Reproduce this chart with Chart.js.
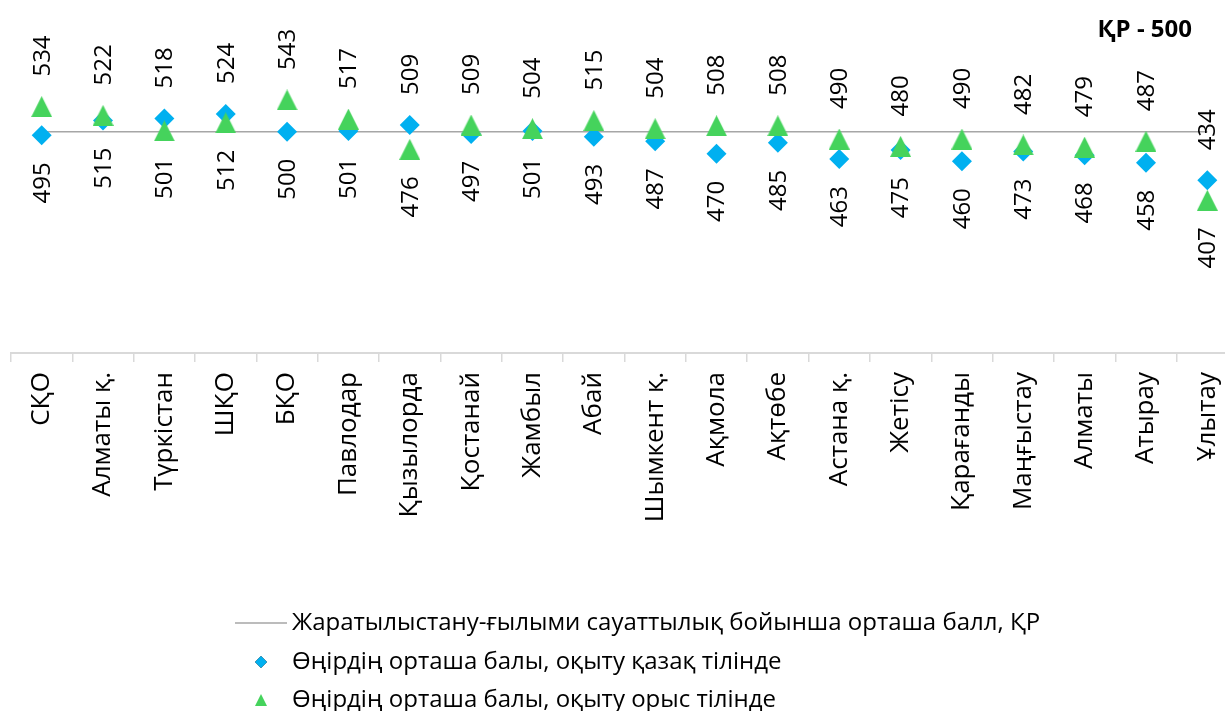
<!DOCTYPE html>
<html lang="kk">
<head>
<meta charset="utf-8">
<title>Жаратылыстану-ғылыми сауаттылық</title>
<script src="https://cdn.jsdelivr.net/npm/chart.js@4.4.0/dist/chart.umd.min.js"></script>
<style>
    html, body { margin: 0; padding: 0; background: #fff; overflow: hidden; }
    #wrap { width: 1250px; height: 711px; }
</style>
</head>
<body>
<div id="wrap"><canvas id="scoreChart" width="1250" height="711"></canvas></div>
<script>
// Regions (categories)
const regions = ['СҚО', 'Алматы қ.', 'Түркістан', 'ШҚО', 'БҚО', 'Павлодар', 'Қызылорда', 'Қостанай',
    'Жамбыл', 'Абай', 'Шымкент қ.', 'Ақмола', 'Ақтөбе', 'Астана қ.', 'Жетісу', 'Қарағанды',
    'Маңғыстау', 'Алматы', 'Атырау', 'Ұлытау'];

// Average score of the region, Kazakh language of instruction
const kazakhScores = [495, 515, 518, 524, 500, 501, 509, 497, 501, 493, 487, 470, 485, 463, 475, 460, 473, 468, 458, 434];

// Average score of the region, Russian language of instruction
const russianScores = [534, 522, 501, 512, 543, 517, 476, 509, 504, 515, 504, 508, 508, 490, 480, 490, 482, 479, 487, 407];

// National average (ҚР)
const nationalScores = [500, 500, 500, 500, 500, 500, 500, 500, 500, 500, 500, 500, 500, 500, 500, 500, 500, 500, 500, 500];

// Hidden value axis range
const yMin = 200;
const yMax = 650;

const seriesNames = [
    'Жаратылыстану-ғылыми сауаттылық бойынша орташа балл, ҚР',
    'Өңірдің орташа балы, оқыту қазақ тілінде',
    'Өңірдің орташа балы, оқыту орыс тілінде'
];

const colors = {
    blue: '#00B0F0',
    green: '#45D35C',
    line: '#A6A6A6',
    axis: '#D9D9D9',
    text: '#000000'
};

const FONT = '"Open Sans", "Noto Sans", sans-serif';

// Triangle marker centred on its bounding box (like the office markers)
function makeTriangle(w, h, color) {
    const c = document.createElement('canvas');
    c.width = w;
    c.height = h;
    const g = c.getContext('2d');
    g.fillStyle = color;
    g.beginPath();
    g.moveTo(w / 2, 0);
    g.lineTo(w, h);
    g.lineTo(0, h);
    g.closePath();
    g.fill();
    return c;
}

const triangleMarker = makeTriangle(21, 21, colors.green);

// Value labels: the higher of the two scores above, the lower one below
const valueLabels = {
    id: 'valueLabels',
    afterDatasetsDraw(chart) {
        const ctx = chart.ctx;
        const kz = chart.getDatasetMeta(1).data;
        const ru = chart.getDatasetMeta(2).data;
        ctx.save();
        ctx.font = '24px ' + FONT;
        ctx.fillStyle = colors.text;
        ctx.textBaseline = 'middle';
        regions.forEach((r, i) => {
            const a = { p: kz[i], v: kazakhScores[i] };
            const b = { p: ru[i], v: russianScores[i] };
            const hi = a.p.y <= b.p.y ? a : b;
            const lo = hi === a ? b : a;
            // upper label
            ctx.save();
            ctx.translate(hi.p.x + 1, hi.p.y - 30);
            ctx.rotate(-Math.PI / 2);
            ctx.textAlign = 'left';
            ctx.fillText(String(hi.v), 0, 0);
            ctx.restore();
            // lower label
            ctx.save();
            ctx.translate(lo.p.x + 1, lo.p.y + 27);
            ctx.rotate(-Math.PI / 2);
            ctx.textAlign = 'right';
            ctx.fillText(String(lo.v), 0, 0);
            ctx.restore();
        });
        ctx.restore();
    }
};

// Note in the top right corner + legend at the bottom
const extras = {
    id: 'extras',
    afterDraw(chart) {
        const ctx = chart.ctx;
        ctx.save();
        ctx.fillStyle = colors.text;
        ctx.font = 'bold 24px ' + FONT;
        ctx.textAlign = 'right';
        ctx.textBaseline = 'middle';
        ctx.fillText('ҚР - 500', 1192, 30);

        // legend rows
        const rows = [623, 662, 700];
        ctx.font = '24px ' + FONT;
        ctx.textAlign = 'left';

        ctx.strokeStyle = colors.line;
        ctx.lineWidth = 1.5;
        ctx.beginPath();
        ctx.moveTo(235, rows[0]);
        ctx.lineTo(287, rows[0]);
        ctx.stroke();

        Chart.helpers.drawPoint(ctx, { pointStyle: 'rectRot', radius: 6, borderWidth: 0 }, 261, rows[1]);
        ctx.fillStyle = colors.blue;
        ctx.fill();
        ctx.drawImage(makeTriangle(12, 12, colors.green), 255, rows[2] - 6);

        ctx.fillStyle = colors.text;
        seriesNames.forEach((name, i) => ctx.fillText(name, 292, rows[i]));
        ctx.restore();
    }
};

const chart = new Chart(document.getElementById('scoreChart'), {
    type: 'line',
    data: {
        labels: regions,
        datasets: [
            {
                label: seriesNames[0],
                data: nationalScores,
                borderColor: colors.line,
                borderWidth: 1.5,
                pointRadius: 0,
                order: 2
            },
            {
                label: seriesNames[1],
                data: kazakhScores,
                showLine: false,
                pointStyle: 'rectRot',
                pointRadius: 10,
                pointBorderWidth: 0,
                pointBackgroundColor: colors.blue,
                pointBorderColor: colors.blue,
                order: 1
            },
            {
                label: seriesNames[2],
                data: russianScores,
                showLine: false,
                pointStyle: triangleMarker,
                pointRadius: 11,
                pointBorderWidth: 0,
                pointBackgroundColor: colors.green,
                pointBorderColor: colors.green,
                order: 0
            }
        ]
    },
    options: {
        responsive: false,
        animation: false,
        devicePixelRatio: 1,
        layout: { padding: { left: 10, right: 12, top: 21, bottom: 0 } },
        plugins: {
            legend: { display: false },
            tooltip: { enabled: false }
        },
        scales: {
            y: {
                display: false,
                min: yMin,
                max: yMax
            },
            x: {
                offset: true,
                afterFit: (scale) => { scale.height = 358; },
                grid: {
                    offset: true,
                    drawOnChartArea: false,
                    drawTicks: true,
                    tickLength: 9,
                    color: colors.axis,
                    lineWidth: 1.5
                },
                border: { display: true, color: colors.axis, width: 2 },
                ticks: {
                    autoSkip: false,
                    minRotation: 90,
                    maxRotation: 90,
                    padding: 10,
                    color: colors.text,
                    font: { family: FONT, size: 26 }
                }
            }
        }
    },
    plugins: [valueLabels, extras]
});
</script>
</body>
</html>
